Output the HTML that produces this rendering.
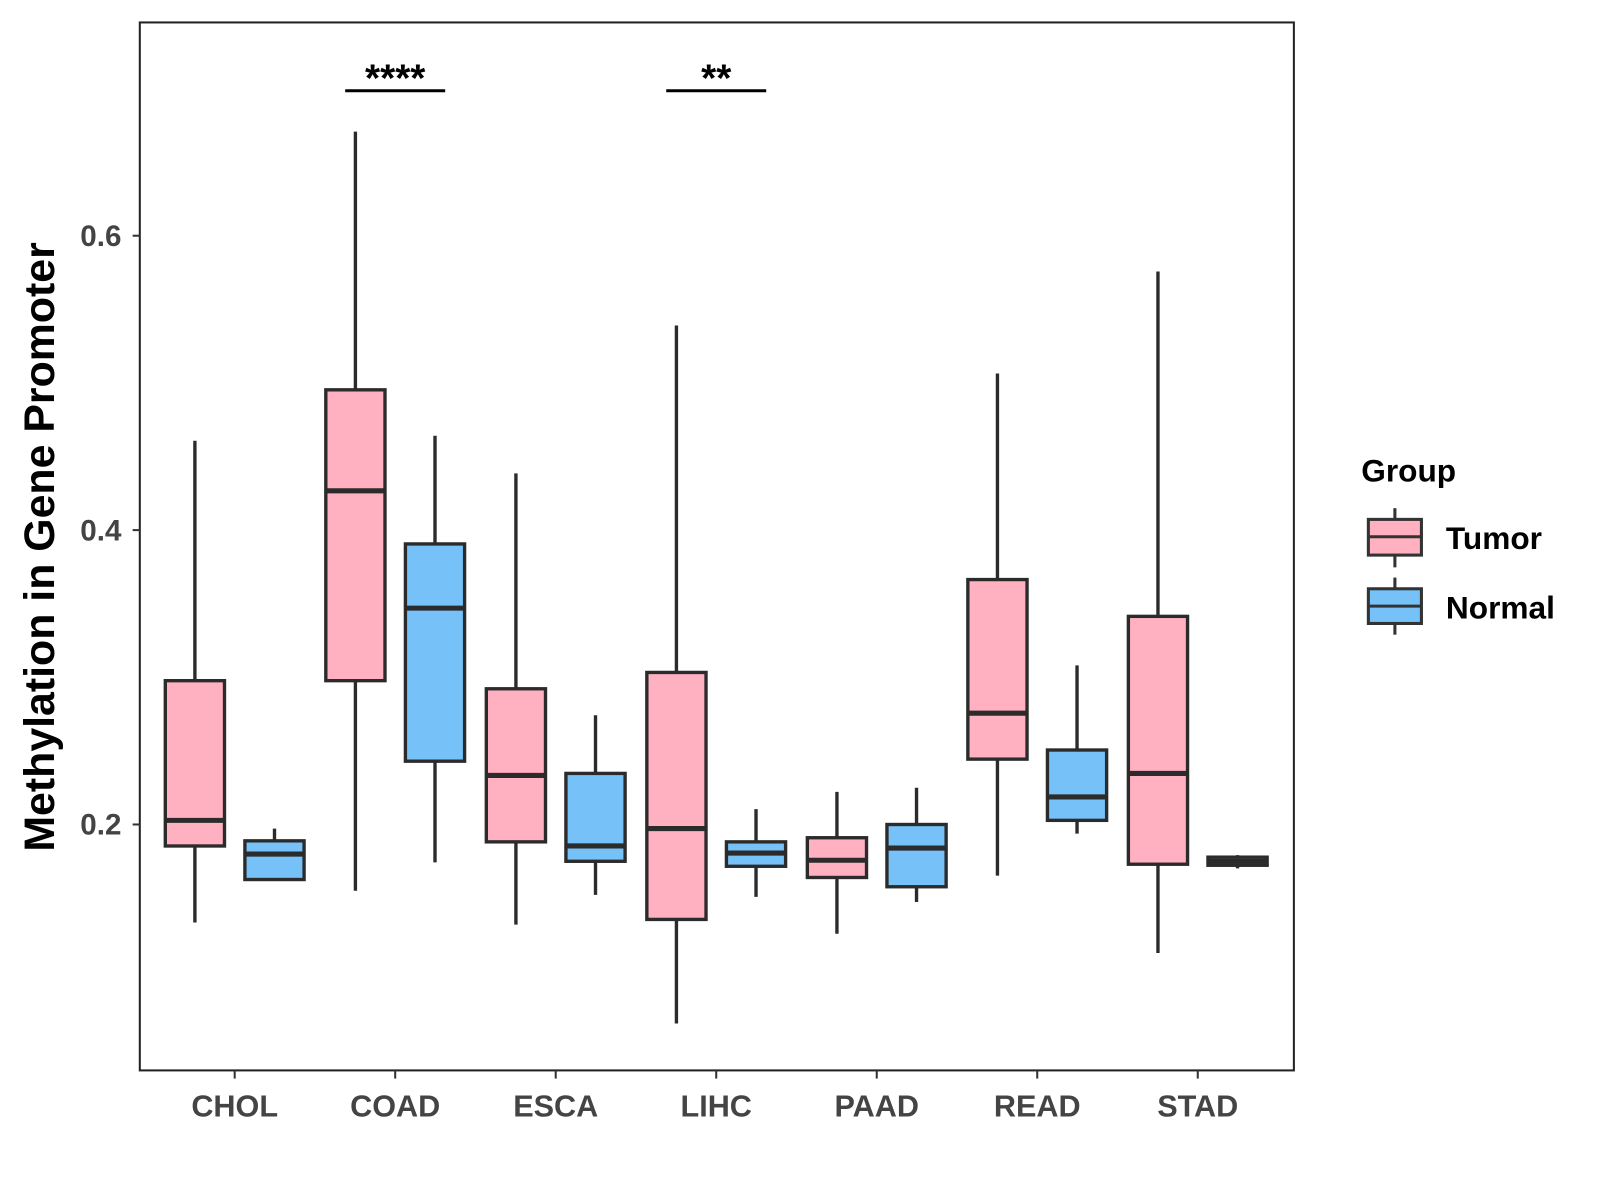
<!DOCTYPE html>
<html><head><meta charset="utf-8"><style>body{margin:0;background:#fff}svg{display:block;font-family:"Liberation Sans",Arial,sans-serif}</style></head>
<body>
<svg id="chart" width="1600" height="1200" viewBox="0 0 1568 1176" xmlns="http://www.w3.org/2000/svg">
<rect x="137" y="22" width="1131" height="1027" fill="#fff" stroke="#222" stroke-width="2"/>
<g id="marks"></g>
<text transform="translate(53,536) rotate(-90)" text-anchor="middle" font-size="42" font-weight="bold" fill="#000">Methylation in Gene Promoter</text>
<g>
<text x="1334" y="472" font-size="31" font-weight="bold">Group</text>
<g>
<line x1="1367" y1="498" x2="1367" y2="556" stroke="#333" stroke-width="3"/>
<rect x="1341" y="509" width="52" height="35" fill="#FFB0C1" stroke="#333" stroke-width="3"/>
<line x1="1341" y1="526" x2="1393" y2="526" stroke="#333" stroke-width="3"/>
<text x="1417" y="538" font-size="31" font-weight="bold">Tumor</text></g>
<g>
<line x1="1367" y1="566" x2="1367" y2="622" stroke="#333" stroke-width="3"/>
<rect x="1341" y="577" width="52" height="34" fill="#75C1F8" stroke="#333" stroke-width="3"/>
<line x1="1341" y1="594" x2="1393" y2="594" stroke="#333" stroke-width="3"/>
<text x="1417" y="606" font-size="31" font-weight="bold">Normal</text></g>
</g>
</svg>
<script>
const categories=["CHOL","COAD","ESCA","LIHC","PAAD","READ","STAD"];
const tumorStats=[[0.1334,0.1854,0.2028,0.2977,0.4607],[0.155,0.2977,0.4267,0.4953,0.6707],[0.132,0.1882,0.2333,0.2922,0.4385],[0.0648,0.1355,0.1972,0.3033,0.539],[0.1258,0.164,0.1757,0.191,0.2222],[0.1653,0.2444,0.2756,0.3664,0.5064],[0.1127,0.173,0.2347,0.3414,0.5757]];
const normalStats=[[0.1626,0.1626,0.1799,0.1889,0.1972],[0.1743,0.243,0.347,0.3906,0.4641],[0.1522,0.175,0.1854,0.2347,0.2742],[0.1508,0.1716,0.1806,0.1882,0.2104],[0.1473,0.1577,0.184,0.2,0.225],[0.1938,0.2028,0.2187,0.2506,0.3081],[0.1702,0.1723,0.175,0.1778,0.1792]];
const yTicks=[0.2,0.4,0.6];
const sigCats=["COAD","LIHC"];
const sigLabels=["****","**"];
const sigLevel=0.6985;
const NS="http://www.w3.org/2000/svg";
const g=document.getElementById('marks');
const y=v=>808-(v-0.2)*1442.5;
const x=i=>230+i*157.3;
function mk(t,a,p){const e=document.createElementNS(NS,t);for(const k in a)e.setAttribute(k,a[k]);(p||g).appendChild(e);return e;}
yTicks.forEach(t=>{
const l=mk('line',{x1:130,x2:137,y1:y(t),y2:y(t),stroke:'#333','stroke-width':2});


const tx=mk('text',{x:119,y:y(t)+10,'text-anchor':'end','font-size':29,'font-weight':'bold',fill:'#444'});


tx.textContent=t.toFixed(1);
});
categories.forEach((c,i)=>{
const l=mk('line',{x1:x(i),x2:x(i),y1:1049,y2:1057,stroke:'#333','stroke-width':2});


const tx=mk('text',{x:x(i),y:1094,'text-anchor':'middle','font-size':30,'font-weight':'bold',fill:'#444'});


tx.textContent=c;
[[tumorStats[i],-39,'#FFB0C1','tumor'],[normalStats[i],39,'#75C1F8','normal']].forEach(([s,off,col,nm])=>{
const cx=x(i)+off,w=58;
const bg=mk('g',{});


mk('line',{x1:cx,x2:cx,y1:y(s[0]),y2:y(s[4]),stroke:'#2b2b2b','stroke-width':3.3},bg);
mk('rect',{x:cx-w/2,y:y(s[3]),width:w,height:Math.max(y(s[1])-y(s[3]),1),fill:col,stroke:'#2b2b2b','stroke-width':3.3},bg);
mk('line',{x1:cx-w/2,x2:cx+w/2,y1:y(s[2]),y2:y(s[2]),stroke:'#2b2b2b','stroke-width':5},bg);
});
});
sigCats.forEach((c,k)=>{
const i=categories.indexOf(c);
const sg=mk('g',{});


mk('line',{x1:x(i)-49,x2:x(i)+49,y1:y(sigLevel),y2:y(sigLevel),stroke:'#000','stroke-width':3},sg);
const t=mk('text',{x:x(i),y:y(sigLevel)+1,'text-anchor':'middle','font-size':38,'font-weight':'bold'},sg);
t.textContent=sigLabels[k];
});
</script>
</body></html>
